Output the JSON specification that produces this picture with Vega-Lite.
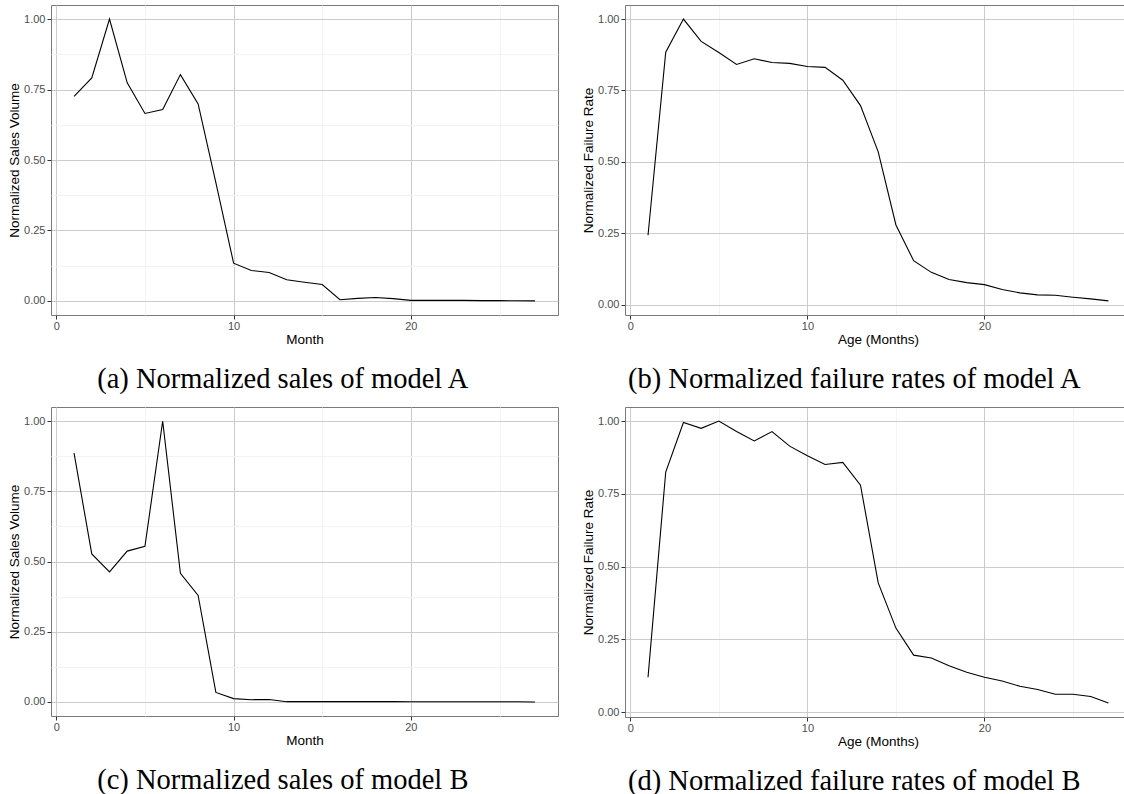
{
  "$schema": "https://vega.github.io/schema/vega-lite/v6.json",
  "padding": {"left": 7, "top": 4, "right": 0, "bottom": 0},
  "background": "white",
  "datasets": {
    "salesA": [
      {"month": 1, "value": 0.726}, {"month": 2, "value": 0.791}, {"month": 3, "value": 1.0},
      {"month": 4, "value": 0.774}, {"month": 5, "value": 0.665}, {"month": 6, "value": 0.679},
      {"month": 7, "value": 0.803}, {"month": 8, "value": 0.699}, {"month": 9, "value": 0.42},
      {"month": 10, "value": 0.134}, {"month": 11, "value": 0.108}, {"month": 12, "value": 0.101},
      {"month": 13, "value": 0.075}, {"month": 14, "value": 0.066}, {"month": 15, "value": 0.058},
      {"month": 16, "value": 0.004}, {"month": 17, "value": 0.009}, {"month": 18, "value": 0.012},
      {"month": 19, "value": 0.008}, {"month": 20, "value": 0.002}, {"month": 21, "value": 0.002},
      {"month": 22, "value": 0.002}, {"month": 23, "value": 0.002}, {"month": 24, "value": 0.001},
      {"month": 25, "value": 0.001}, {"month": 26, "value": 0.0005}, {"month": 27, "value": 0.0}
    ],
    "failA": [
      {"age": 1, "value": 0.243}, {"age": 2, "value": 0.884}, {"age": 3, "value": 1.0},
      {"age": 4, "value": 0.922}, {"age": 5, "value": 0.883}, {"age": 6, "value": 0.841},
      {"age": 7, "value": 0.861}, {"age": 8, "value": 0.848}, {"age": 9, "value": 0.845},
      {"age": 10, "value": 0.834}, {"age": 11, "value": 0.831}, {"age": 12, "value": 0.786},
      {"age": 13, "value": 0.697}, {"age": 14, "value": 0.535}, {"age": 15, "value": 0.279},
      {"age": 16, "value": 0.154}, {"age": 17, "value": 0.113}, {"age": 18, "value": 0.088},
      {"age": 19, "value": 0.077}, {"age": 20, "value": 0.07}, {"age": 21, "value": 0.053},
      {"age": 22, "value": 0.041}, {"age": 23, "value": 0.034}, {"age": 24, "value": 0.033},
      {"age": 25, "value": 0.026}, {"age": 26, "value": 0.02}, {"age": 27, "value": 0.013}
    ],
    "salesB": [
      {"month": 1, "value": 0.886}, {"month": 2, "value": 0.527}, {"month": 3, "value": 0.463},
      {"month": 4, "value": 0.537}, {"month": 5, "value": 0.554}, {"month": 6, "value": 1.0},
      {"month": 7, "value": 0.458}, {"month": 8, "value": 0.379}, {"month": 9, "value": 0.034},
      {"month": 10, "value": 0.012}, {"month": 11, "value": 0.008}, {"month": 12, "value": 0.009},
      {"month": 13, "value": 0.001}, {"month": 14, "value": 0.001}, {"month": 15, "value": 0.001},
      {"month": 16, "value": 0.001}, {"month": 17, "value": 0.001}, {"month": 18, "value": 0.001},
      {"month": 19, "value": 0.001}, {"month": 20, "value": 0.0005}, {"month": 21, "value": 0.0005},
      {"month": 22, "value": 0.0005}, {"month": 23, "value": 0.0005}, {"month": 24, "value": 0.0005},
      {"month": 25, "value": 0.0005}, {"month": 26, "value": 0.0005}, {"month": 27, "value": 0.0}
    ],
    "failB": [
      {"age": 1, "value": 0.12}, {"age": 2, "value": 0.825}, {"age": 3, "value": 0.995},
      {"age": 4, "value": 0.975}, {"age": 5, "value": 1.0}, {"age": 6, "value": 0.964},
      {"age": 7, "value": 0.932}, {"age": 8, "value": 0.964}, {"age": 9, "value": 0.914},
      {"age": 10, "value": 0.881}, {"age": 11, "value": 0.851}, {"age": 12, "value": 0.858},
      {"age": 13, "value": 0.78}, {"age": 14, "value": 0.444}, {"age": 15, "value": 0.289},
      {"age": 16, "value": 0.196}, {"age": 17, "value": 0.186}, {"age": 18, "value": 0.16},
      {"age": 19, "value": 0.137}, {"age": 20, "value": 0.12}, {"age": 21, "value": 0.107},
      {"age": 22, "value": 0.089}, {"age": 23, "value": 0.078}, {"age": 24, "value": 0.062},
      {"age": 25, "value": 0.062}, {"age": 26, "value": 0.054}, {"age": 27, "value": 0.032}
    ]
  },
  "vconcat": [
    {
      "hconcat": [
        {
          "width": 507, "height": 310,
          "title": {"text": "(a) Normalized sales of model A"},
          "data": {"name": "salesA"},
          "mark": {"type": "line", "color": "black", "strokeWidth": 1.1},
          "encoding": {
            "x": {"field": "month", "type": "quantitative", "title": "Month",
                  "scale": {"domain": [-0.3, 28.3], "nice": false, "zero": false},
                  "axis": {"values": [0, 5, 10, 15, 20, 25]}},
            "y": {"field": "value", "type": "quantitative", "title": "Normalized Sales Volume",
                  "scale": {"domain": [-0.05, 1.05], "nice": false, "zero": false},
                  "axis": {"values": [0, 0.125, 0.25, 0.375, 0.5, 0.625, 0.75, 0.875, 1]}}
          }
        },
        {
          "width": 502, "height": 310,
          "title": {"text": "(b) Normalized failure rates of model A"},
          "view": {"stroke": null},
          "data": {"name": "failA"},
          "layer": [
            {
              "mark": {"type": "line", "color": "black", "strokeWidth": 1.1},
              "encoding": {
                "x": {"field": "age", "type": "quantitative", "title": "Age (Months)",
                      "scale": {"domain": [-0.3, 28.05], "nice": false, "zero": false},
                      "axis": {"values": [0, 5, 10, 15, 20, 25], "titleX": 253, "domain": true, "domainColor": "#7a7a7a", "domainWidth": 1}},
                "y": {"field": "value", "type": "quantitative", "title": "Normalized Failure Rate",
                      "scale": {"domain": [-0.0364, 1.0494], "nice": false, "zero": false},
                      "axis": {"values": [0, 0.125, 0.25, 0.375, 0.5, 0.625, 0.75, 0.875, 1], "domain": true, "domainColor": "#7a7a7a", "domainWidth": 1}}
              }
            },
            {
              "mark": {"type": "line", "strokeOpacity": 0},
              "encoding": {
                "x": {"field": "age", "type": "quantitative", "title": null,
                      "axis": {"orient": "top", "labels": false, "ticks": false, "grid": false, "domain": true, "domainColor": "#7a7a7a", "domainWidth": 1}},
                "y": {"field": "value", "type": "quantitative", "title": "Normalized Failure Rate"}
              }
            }
          ],
          "resolve": {"axis": {"x": "independent"}}
        }
      ]
    },
    {
      "hconcat": [
        {
          "width": 507, "height": 309,
          "title": {"text": "(c) Normalized sales of model B"},
          "data": {"name": "salesB"},
          "mark": {"type": "line", "color": "black", "strokeWidth": 1.1},
          "encoding": {
            "x": {"field": "month", "type": "quantitative", "title": "Month",
                  "scale": {"domain": [-0.3, 28.3], "nice": false, "zero": false},
                  "axis": {"values": [0, 5, 10, 15, 20, 25]}},
            "y": {"field": "value", "type": "quantitative", "title": "Normalized Sales Volume",
                  "scale": {"domain": [-0.05, 1.05], "nice": false, "zero": false},
                  "axis": {"values": [0, 0.125, 0.25, 0.375, 0.5, 0.625, 0.75, 0.875, 1]}}
          }
        },
        {
          "width": 502, "height": 310,
          "title": {"text": "(d) Normalized failure rates of model B"},
          "view": {"stroke": null},
          "data": {"name": "failB"},
          "layer": [
            {
              "mark": {"type": "line", "color": "black", "strokeWidth": 1.1},
              "encoding": {
                "x": {"field": "age", "type": "quantitative", "title": "Age (Months)",
                      "scale": {"domain": [-0.3, 28.05], "nice": false, "zero": false},
                      "axis": {"values": [0, 5, 10, 15, 20, 25], "titleX": 253, "domain": true, "domainColor": "#7a7a7a", "domainWidth": 1}},
                "y": {"field": "value", "type": "quantitative", "title": "Normalized Failure Rate",
                      "scale": {"domain": [-0.0164, 1.0484], "nice": false, "zero": false},
                      "axis": {"values": [0, 0.125, 0.25, 0.375, 0.5, 0.625, 0.75, 0.875, 1], "domain": true, "domainColor": "#7a7a7a", "domainWidth": 1}}
              }
            },
            {
              "mark": {"type": "line", "strokeOpacity": 0},
              "encoding": {
                "x": {"field": "age", "type": "quantitative", "title": null,
                      "axis": {"orient": "top", "labels": false, "ticks": false, "grid": false, "domain": true, "domainColor": "#7a7a7a", "domainWidth": 1}},
                "y": {"field": "value", "type": "quantitative", "title": "Normalized Failure Rate"}
              }
            }
          ],
          "resolve": {"axis": {"x": "independent"}}
        }
      ]
    }
  ],
  "spacing": 12,
  "config": {
    "concat": {"spacing": 22},
    "view": {"stroke": "#7a7a7a", "strokeWidth": 1},
    "axis": {
      "domain": false,
      "labelFont": "Liberation Sans",
      "labelFontSize": 11,
      "labelColor": "#4d4d4d",
      "labelOverlap": false,
      "titleFont": "Liberation Sans",
      "titleFontSize": 13.5,
      "titleFontWeight": "normal",
      "titleColor": "black",
      "tickColor": "#333333",
      "tickOpacity": {"condition": {"test": "datum.value * 4 % 1 === 0 && (datum.value <= 1 || datum.value % 10 === 0)", "value": 1}, "value": 0},
      "tickSize": 4,
      "tickWidth": 1,
      "gridWidth": 1,
      "gridColor": {"condition": {"test": "datum.value * 4 % 1 === 0 && (datum.value <= 1 || datum.value % 10 === 0)", "value": "#cccccc"}, "value": "#f3f3f3"}
    },
    "axisX": {
      "labelPadding": 1,
      "titlePadding": 1,
      "labelExpr": "datum.value % 10 === 0 ? datum.label : ''"
    },
    "axisY": {
      "labelPadding": 2,
      "titlePadding": 2,
      "format": ".2f",
      "labelExpr": "datum.value * 4 % 1 === 0 ? datum.label : ''"
    },
    "title": {
      "orient": "bottom",
      "anchor": "middle",
      "frame": "bounds",
      "font": "Liberation Serif",
      "fontSize": 28.5,
      "fontWeight": "normal",
      "color": "black",
      "offset": 19
    }
  }
}
